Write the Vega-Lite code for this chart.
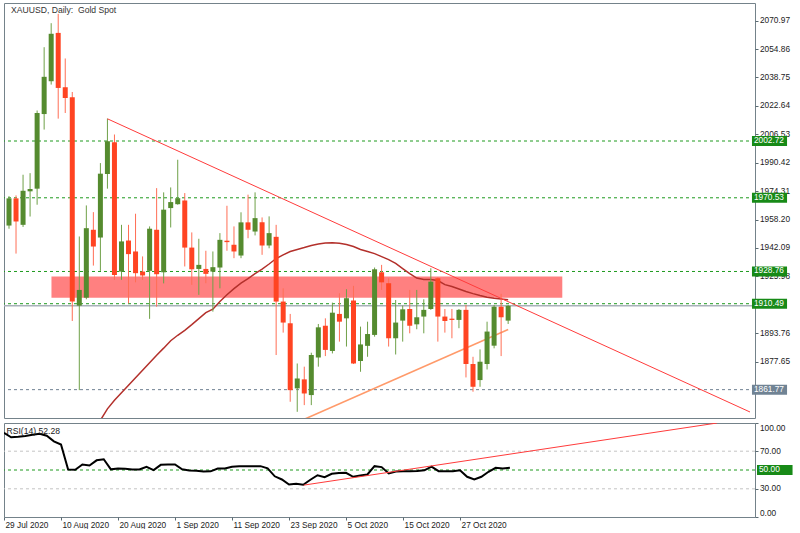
{
  "$schema": "https://vega.github.io/schema/vega-lite/v6.json",
  "padding": {"left": 2, "top": 2, "right": 0, "bottom": 0},
  "background": "white",
  "spacing": 3,
  "config": {
    "view": {"stroke": "#74828a", "strokeWidth": 1},
    "axis": {"labelFont": "Liberation Sans", "labelFontSize": 8.3, "labelColor": "#222222", "tickColor": "#5a6a72", "tickWidth": 1, "grid": false, "domain": false, "zindex": 0}
  },
  "datasets": {
    "candles": [
      {"d": "2020-07-29", "n": 0, "o": 1954.8, "h": 1971.5, "l": 1953.0, "c": 1970.2},
      {"d": "2020-07-30", "n": 1, "o": 1970.2, "h": 1971.9, "l": 1938.9, "c": 1957.1},
      {"d": "2020-07-31", "n": 2, "o": 1955.2, "h": 1983.6, "l": 1954.0, "c": 1974.5},
      {"d": "2020-08-03", "n": 3, "o": 1974.2, "h": 1984.5, "l": 1959.9, "c": 1975.5},
      {"d": "2020-08-04", "n": 4, "o": 1975.7, "h": 2020.0, "l": 1966.6, "c": 2018.6},
      {"d": "2020-08-05", "n": 5, "o": 2018.0, "h": 2055.9, "l": 2009.2, "c": 2039.1},
      {"d": "2020-08-06", "n": 6, "o": 2036.6, "h": 2069.5, "l": 2034.7, "c": 2063.5},
      {"d": "2020-08-07", "n": 7, "o": 2064.0, "h": 2074.8, "l": 2015.4, "c": 2032.8},
      {"d": "2020-08-10", "n": 8, "o": 2033.2, "h": 2049.5, "l": 2018.6, "c": 2027.1},
      {"d": "2020-08-11", "n": 9, "o": 2027.5, "h": 2030.5, "l": 1900.7, "c": 1911.7},
      {"d": "2020-08-12", "n": 10, "o": 1909.4, "h": 1948.6, "l": 1861.5, "c": 1918.3},
      {"d": "2020-08-13", "n": 11, "o": 1913.9, "h": 1966.2, "l": 1913.0, "c": 1953.3},
      {"d": "2020-08-14", "n": 12, "o": 1952.4, "h": 1962.4, "l": 1932.1, "c": 1942.9},
      {"d": "2020-08-17", "n": 13, "o": 1948.0, "h": 1990.2, "l": 1929.1, "c": 1984.2},
      {"d": "2020-08-18", "n": 14, "o": 1984.0, "h": 2015.4, "l": 1975.7, "c": 2002.6},
      {"d": "2020-08-19", "n": 15, "o": 2002.0, "h": 2006.4, "l": 1924.0, "c": 1926.8},
      {"d": "2020-08-20", "n": 16, "o": 1928.7, "h": 1955.2, "l": 1924.0, "c": 1945.8},
      {"d": "2020-08-21", "n": 17, "o": 1946.3, "h": 1955.2, "l": 1910.7, "c": 1938.6},
      {"d": "2020-08-24", "n": 18, "o": 1940.1, "h": 1961.5, "l": 1922.6, "c": 1927.8},
      {"d": "2020-08-25", "n": 19, "o": 1928.7, "h": 1937.3, "l": 1924.0, "c": 1926.5},
      {"d": "2020-08-26", "n": 20, "o": 1929.1, "h": 1954.3, "l": 1901.9, "c": 1953.0},
      {"d": "2020-08-27", "n": 21, "o": 1952.4, "h": 1976.0, "l": 1908.8, "c": 1927.2},
      {"d": "2020-08-28", "n": 22, "o": 1928.3, "h": 1973.6, "l": 1922.0, "c": 1963.8},
      {"d": "2020-08-31", "n": 23, "o": 1964.7, "h": 1976.4, "l": 1953.7, "c": 1968.1},
      {"d": "2020-09-01", "n": 24, "o": 1966.9, "h": 1992.1, "l": 1966.6, "c": 1970.3},
      {"d": "2020-09-02", "n": 25, "o": 1969.0, "h": 1973.2, "l": 1931.6, "c": 1942.3},
      {"d": "2020-09-03", "n": 26, "o": 1942.3, "h": 1950.9, "l": 1921.2, "c": 1930.0},
      {"d": "2020-09-04", "n": 27, "o": 1930.2, "h": 1947.3, "l": 1915.5, "c": 1932.5},
      {"d": "2020-09-07", "n": 28, "o": 1930.2, "h": 1940.5, "l": 1922.1, "c": 1927.4},
      {"d": "2020-09-08", "n": 29, "o": 1928.7, "h": 1940.1, "l": 1906.0, "c": 1931.2},
      {"d": "2020-09-09", "n": 30, "o": 1931.0, "h": 1950.5, "l": 1919.2, "c": 1946.7},
      {"d": "2020-09-10", "n": 31, "o": 1946.2, "h": 1966.0, "l": 1940.5, "c": 1945.4},
      {"d": "2020-09-11", "n": 32, "o": 1943.9, "h": 1954.3, "l": 1936.3, "c": 1940.1},
      {"d": "2020-09-14", "n": 33, "o": 1937.8, "h": 1962.3, "l": 1936.3, "c": 1956.6},
      {"d": "2020-09-15", "n": 34, "o": 1956.6, "h": 1972.3, "l": 1947.6, "c": 1952.4},
      {"d": "2020-09-16", "n": 35, "o": 1951.4, "h": 1973.6, "l": 1949.2, "c": 1959.0},
      {"d": "2020-09-17", "n": 36, "o": 1956.6, "h": 1959.4, "l": 1938.2, "c": 1943.5},
      {"d": "2020-09-18", "n": 37, "o": 1943.5, "h": 1960.0, "l": 1941.9, "c": 1950.5},
      {"d": "2020-09-21", "n": 38, "o": 1948.4, "h": 1955.2, "l": 1881.4, "c": 1911.7},
      {"d": "2020-09-22", "n": 39, "o": 1911.7, "h": 1919.2, "l": 1894.1, "c": 1899.8},
      {"d": "2020-09-23", "n": 40, "o": 1899.4, "h": 1904.7, "l": 1854.9, "c": 1861.5},
      {"d": "2020-09-24", "n": 41, "o": 1862.5, "h": 1876.6, "l": 1849.2, "c": 1868.1},
      {"d": "2020-09-25", "n": 42, "o": 1867.6, "h": 1874.8, "l": 1853.0, "c": 1859.6},
      {"d": "2020-09-28", "n": 43, "o": 1858.7, "h": 1882.7, "l": 1853.0, "c": 1881.4},
      {"d": "2020-09-29", "n": 44, "o": 1880.0, "h": 1899.0, "l": 1874.8, "c": 1897.1},
      {"d": "2020-09-30", "n": 45, "o": 1898.0, "h": 1902.2, "l": 1880.8, "c": 1884.3},
      {"d": "2020-10-01", "n": 46, "o": 1883.7, "h": 1911.1, "l": 1882.3, "c": 1905.4},
      {"d": "2020-10-02", "n": 47, "o": 1904.7, "h": 1916.4, "l": 1889.0, "c": 1900.3},
      {"d": "2020-10-05", "n": 48, "o": 1902.2, "h": 1918.7, "l": 1886.2, "c": 1913.6},
      {"d": "2020-10-06", "n": 49, "o": 1912.3, "h": 1920.6, "l": 1876.3, "c": 1876.6},
      {"d": "2020-10-07", "n": 50, "o": 1878.0, "h": 1897.5, "l": 1871.9, "c": 1887.4},
      {"d": "2020-10-08", "n": 51, "o": 1886.6, "h": 1900.3, "l": 1880.4, "c": 1893.3},
      {"d": "2020-10-09", "n": 52, "o": 1892.8, "h": 1931.0, "l": 1891.8, "c": 1930.0},
      {"d": "2020-10-12", "n": 53, "o": 1928.3, "h": 1932.5, "l": 1918.3, "c": 1922.6},
      {"d": "2020-10-13", "n": 54, "o": 1922.1, "h": 1924.9, "l": 1886.2, "c": 1890.9},
      {"d": "2020-10-14", "n": 55, "o": 1890.9, "h": 1912.6, "l": 1881.7, "c": 1899.8},
      {"d": "2020-10-15", "n": 56, "o": 1900.9, "h": 1909.4, "l": 1889.0, "c": 1907.3},
      {"d": "2020-10-16", "n": 57, "o": 1907.5, "h": 1918.3, "l": 1893.7, "c": 1898.0},
      {"d": "2020-10-19", "n": 58, "o": 1898.8, "h": 1918.3, "l": 1896.0, "c": 1902.8},
      {"d": "2020-10-20", "n": 59, "o": 1903.2, "h": 1913.0, "l": 1893.7, "c": 1907.0},
      {"d": "2020-10-21", "n": 60, "o": 1907.5, "h": 1930.6, "l": 1907.0, "c": 1923.0},
      {"d": "2020-10-22", "n": 61, "o": 1924.9, "h": 1925.5, "l": 1889.0, "c": 1903.2},
      {"d": "2020-10-23", "n": 62, "o": 1903.2, "h": 1907.5, "l": 1894.1, "c": 1900.7},
      {"d": "2020-10-26", "n": 63, "o": 1902.0, "h": 1907.5, "l": 1890.9, "c": 1901.3},
      {"d": "2020-10-27", "n": 64, "o": 1901.3, "h": 1907.5, "l": 1896.6, "c": 1907.0},
      {"d": "2020-10-28", "n": 65, "o": 1907.0, "h": 1909.8, "l": 1868.7, "c": 1876.3},
      {"d": "2020-10-29", "n": 66, "o": 1876.3, "h": 1880.4, "l": 1860.6, "c": 1863.4},
      {"d": "2020-10-30", "n": 67, "o": 1867.2, "h": 1884.6, "l": 1863.4, "c": 1877.6},
      {"d": "2020-11-02", "n": 68, "o": 1876.3, "h": 1900.3, "l": 1873.2, "c": 1894.7},
      {"d": "2020-11-03", "n": 69, "o": 1886.7, "h": 1909.8, "l": 1885.2, "c": 1908.8},
      {"d": "2020-11-04", "n": 70, "o": 1908.8, "h": 1916.1, "l": 1880.8, "c": 1902.8},
      {"d": "2020-11-05", "n": 71, "o": 1900.9, "h": 1909.8, "l": 1899.0, "c": 1909.3}
    ],
    "ma": [
      {"n": 12, "v": 1837.9}, {"n": 13, "v": 1844.4}, {"n": 14, "v": 1850.9}, {"n": 15, "v": 1855.7},
      {"n": 16, "v": 1860.0}, {"n": 17, "v": 1864.3}, {"n": 18, "v": 1868.5}, {"n": 19, "v": 1872.8},
      {"n": 20, "v": 1877.0}, {"n": 21, "v": 1881.3}, {"n": 22, "v": 1885.3}, {"n": 23, "v": 1889.5},
      {"n": 24, "v": 1892.6}, {"n": 25, "v": 1895.4}, {"n": 26, "v": 1898.6}, {"n": 27, "v": 1902.0},
      {"n": 28, "v": 1905.4}, {"n": 29, "v": 1907.4}, {"n": 30, "v": 1911.7}, {"n": 31, "v": 1915.6},
      {"n": 32, "v": 1919.0}, {"n": 33, "v": 1922.2}, {"n": 34, "v": 1924.7}, {"n": 35, "v": 1927.6},
      {"n": 36, "v": 1930.1}, {"n": 37, "v": 1933.0}, {"n": 38, "v": 1936.1}, {"n": 39, "v": 1938.2},
      {"n": 40, "v": 1940.1}, {"n": 41, "v": 1941.2}, {"n": 42, "v": 1942.3}, {"n": 43, "v": 1943.5},
      {"n": 44, "v": 1944.3}, {"n": 45, "v": 1944.9}, {"n": 46, "v": 1945.0}, {"n": 47, "v": 1944.7},
      {"n": 48, "v": 1944.0}, {"n": 49, "v": 1942.9}, {"n": 50, "v": 1941.2}, {"n": 51, "v": 1940.1},
      {"n": 52, "v": 1938.9}, {"n": 53, "v": 1937.2}, {"n": 54, "v": 1935.5}, {"n": 55, "v": 1933.3},
      {"n": 56, "v": 1930.4}, {"n": 57, "v": 1927.6}, {"n": 58, "v": 1925.0}, {"n": 59, "v": 1924.2},
      {"n": 60, "v": 1924.2}, {"n": 61, "v": 1923.6}, {"n": 62, "v": 1921.3}, {"n": 63, "v": 1920.2},
      {"n": 64, "v": 1918.8}, {"n": 65, "v": 1917.4}, {"n": 66, "v": 1916.2}, {"n": 67, "v": 1915.1},
      {"n": 68, "v": 1914.2}, {"n": 69, "v": 1913.6}, {"n": 70, "v": 1913.1}, {"n": 71, "v": 1912.8}
    ],
    "rsi": [
      {"n": 0, "v": 89.6}, {"n": 1, "v": 84.8}, {"n": 2, "v": 85.3}, {"n": 3, "v": 86.1},
      {"n": 4, "v": 87.4}, {"n": 5, "v": 88.5}, {"n": 6, "v": 86.4}, {"n": 7, "v": 80.5},
      {"n": 8, "v": 77.1}, {"n": 9, "v": 50.5}, {"n": 10, "v": 50.2}, {"n": 11, "v": 55.9},
      {"n": 12, "v": 54.8}, {"n": 13, "v": 60.3}, {"n": 14, "v": 61.4}, {"n": 15, "v": 50.7},
      {"n": 16, "v": 51.6}, {"n": 17, "v": 51.3}, {"n": 18, "v": 50.5}, {"n": 19, "v": 50.5},
      {"n": 20, "v": 53.4}, {"n": 21, "v": 49.9}, {"n": 22, "v": 55.5}, {"n": 23, "v": 55.9},
      {"n": 24, "v": 55.9}, {"n": 25, "v": 50.7}, {"n": 26, "v": 49.5}, {"n": 27, "v": 49.1},
      {"n": 28, "v": 48.4}, {"n": 29, "v": 48.6}, {"n": 30, "v": 51.6}, {"n": 31, "v": 51.6},
      {"n": 32, "v": 53.4}, {"n": 33, "v": 54.1}, {"n": 34, "v": 54.1}, {"n": 35, "v": 54.1},
      {"n": 36, "v": 54.1}, {"n": 37, "v": 51.8}, {"n": 38, "v": 43.3}, {"n": 39, "v": 39.9},
      {"n": 40, "v": 34.6}, {"n": 41, "v": 35.3}, {"n": 42, "v": 34.3}, {"n": 43, "v": 39.6},
      {"n": 44, "v": 44.4}, {"n": 45, "v": 42.4}, {"n": 46, "v": 46.0}, {"n": 47, "v": 46.7},
      {"n": 48, "v": 47.0}, {"n": 49, "v": 42.8}, {"n": 50, "v": 44.1}, {"n": 51, "v": 45.2},
      {"n": 52, "v": 54.1}, {"n": 53, "v": 53.1}, {"n": 54, "v": 46.3}, {"n": 55, "v": 48.3},
      {"n": 56, "v": 48.8}, {"n": 57, "v": 48.8}, {"n": 58, "v": 48.9}, {"n": 59, "v": 49.7},
      {"n": 60, "v": 53.6}, {"n": 61, "v": 48.8}, {"n": 62, "v": 48.8}, {"n": 63, "v": 48.8},
      {"n": 64, "v": 49.7}, {"n": 65, "v": 42.8}, {"n": 66, "v": 39.9}, {"n": 67, "v": 42.8},
      {"n": 68, "v": 48.1}, {"n": 69, "v": 52.3}, {"n": 70, "v": 51.6}, {"n": 71, "v": 52.3}
    ],
    "levels": [
      {"p": 2002.72, "kind": "line"},
      {"p": 1970.53, "kind": "line"},
      {"p": 1928.76, "kind": "line"},
      {"p": 1910.49, "kind": "line"},
      {"p": 1861.77, "kind": "low"}
    ]
  },
  "vconcat": [
    {
      "width": 751,
      "height": 415,
      "encoding": {
        "y": {"field": "p", "type": "quantitative", "scale": {"domain": [1845.7, 2080.95], "nice": false, "zero": false}, "title": null,
          "axis": {"orient": "right", "values": [2070.97, 2054.86, 2038.75, 2022.64, 2006.53, 1990.42, 1974.31, 1958.2, 1942.09, 1925.98, 1893.76, 1877.65], "format": ".2f", "tickSize": 3, "labelPadding": 1.5, "title": null, "labelBaseline": "middle", "labelFlush": false, "zindex": 0}}
      },
      "layer": [
        {
          "data": {"values": [{"n": 6.04, "to": 78.7, "p": 1925.9, "bottom": 1913.9}]},
          "mark": {"type": "rect", "color": "#ff8080", "clip": true},
          "encoding": {
            "x": {"field": "n", "type": "quantitative", "scale": {"domain": [0, 105.4], "nice": false, "zero": false}, "axis": null, "title": null},
            "x2": {"field": "to"},
            "y2": {"field": "bottom"}
          }
        },
        {
          "data": {"name": "levels"},
          "mark": {"type": "rule", "strokeDash": [3, 3], "strokeWidth": 1},
          "encoding": {
            "color": {"condition": {"test": "datum.kind === 'low'", "value": "#6f8092"}, "value": "#1e9a1e"}
          }
        },
        {
          "data": {"values": [{"p": 1909.3}]},
          "mark": {"type": "rule", "color": "#a9b1ba", "strokeWidth": 1.5}
        },
        {
          "data": {"name": "ma"},
          "mark": {"type": "line", "color": "#b3302b", "strokeWidth": 1.5, "clip": true},
          "encoding": {
            "x": {"field": "n", "type": "quantitative", "scale": {"domain": [0, 105.4], "nice": false, "zero": false}, "axis": null, "title": null},
            "y": {"field": "v", "type": "quantitative", "scale": {"domain": [1845.7, 2080.95], "nice": false, "zero": false}, "title": null,
              "axis": {"orient": "right", "values": [2070.97, 2054.86, 2038.75, 2022.64, 2006.53, 1990.42, 1974.31, 1958.2, 1942.09, 1925.98, 1893.76, 1877.65], "format": ".2f", "tickSize": 3, "labelPadding": 1.5, "title": null, "labelBaseline": "middle", "labelFlush": false, "zindex": 0}}
          }
        },
        {
          "data": {"values": [{"n": 42, "p": 1845.0}, {"n": 71, "p": 1895.9}]},
          "mark": {"type": "line", "color": "#ff9a6a", "strokeWidth": 1.6, "clip": true},
          "encoding": {
            "x": {"field": "n", "type": "quantitative", "scale": {"domain": [0, 105.4], "nice": false, "zero": false}, "axis": null, "title": null}
          }
        },
        {
          "data": {"name": "candles"},
          "mark": {"type": "rule", "strokeWidth": 1, "clip": true},
          "encoding": {
            "x": {"field": "n", "type": "quantitative", "scale": {"domain": [0, 105.4], "nice": false, "zero": false}, "axis": null, "title": null},
            "y": {"field": "l", "type": "quantitative", "scale": {"domain": [1845.7, 2080.95], "nice": false, "zero": false}, "title": null,
              "axis": {"orient": "right", "values": [2070.97, 2054.86, 2038.75, 2022.64, 2006.53, 1990.42, 1974.31, 1958.2, 1942.09, 1925.98, 1893.76, 1877.65], "format": ".2f", "tickSize": 3, "labelPadding": 1.5, "title": null, "labelBaseline": "middle", "labelFlush": false, "zindex": 0}},
            "y2": {"field": "h"},
            "color": {"condition": {"test": "datum.c >= datum.o", "value": "#6fa048"}, "value": "#ff6e55"}
          }
        },
        {
          "data": {"name": "candles"},
          "mark": {"type": "bar", "size": 5, "clip": true},
          "encoding": {
            "x": {"field": "n", "type": "quantitative", "scale": {"domain": [0, 105.4], "nice": false, "zero": false}, "axis": null, "title": null},
            "y": {"field": "o", "type": "quantitative", "scale": {"domain": [1845.7, 2080.95], "nice": false, "zero": false}, "title": null,
              "axis": {"orient": "right", "values": [2070.97, 2054.86, 2038.75, 2022.64, 2006.53, 1990.42, 1974.31, 1958.2, 1942.09, 1925.98, 1893.76, 1877.65], "format": ".2f", "tickSize": 3, "labelPadding": 1.5, "title": null, "labelBaseline": "middle", "labelFlush": false, "zindex": 0}},
            "y2": {"field": "c"},
            "color": {"condition": {"test": "datum.c >= datum.o", "value": "#558b2f"}, "value": "#ff4422"}
          }
        },
        {
          "data": {"values": [{"n": 14, "p": 2015.3}, {"n": 105.4, "p": 1849.1}]},
          "mark": {"type": "line", "color": "#ff3b3b", "strokeWidth": 1, "clip": true},
          "encoding": {
            "x": {"field": "n", "type": "quantitative", "scale": {"domain": [0, 105.4], "nice": false, "zero": false}, "axis": null, "title": null}
          }
        },
        {
          "data": {"values": [{"n": 0.3, "p": 2077.0, "t": "XAUUSD, Daily: \u00a0Gold Spot"}]},
          "mark": {"type": "text", "align": "left", "baseline": "middle", "font": "Liberation Sans", "fontSize": 8.6, "color": "#333333"},
          "encoding": {
            "x": {"field": "n", "type": "quantitative", "scale": {"domain": [0, 105.4], "nice": false, "zero": false}, "axis": null, "title": null},
            "text": {"field": "t"}
          }
        },
        {
          "data": {"name": "levels"},
          "mark": {"type": "rule", "strokeWidth": 10, "clip": false},
          "encoding": {
            "x": {"datum": 105.68, "type": "quantitative", "scale": {"domain": [0, 105.4], "nice": false, "zero": false}, "axis": null, "title": null},
            "x2": {"datum": 110.67},
            "color": {"condition": {"test": "datum.kind === 'low'", "value": "#708394"}, "value": "#178a17"}
          }
        },
        {
          "data": {"name": "levels"},
          "mark": {"type": "text", "align": "left", "baseline": "middle", "font": "Liberation Sans", "fontSize": 8.3, "color": "#ffffff", "clip": false},
          "encoding": {
            "x": {"datum": 105.96, "type": "quantitative", "scale": {"domain": [0, 105.4], "nice": false, "zero": false}, "axis": null, "title": null},
            "text": {"field": "p", "type": "quantitative", "format": ".2f"}
          }
        }
      ]
    },
    {
      "width": 751,
      "height": 94,
      "encoding": {
        "y": {"field": "v", "type": "quantitative", "scale": {"domain": [0, 100], "nice": false, "zero": false}, "title": null,
          "axis": {"orient": "right", "values": [100, 70, 30, 0], "format": ".2f", "tickSize": 3, "labelPadding": 1.5, "labelFlush": true, "title": null, "zindex": 0}}
      },
      "layer": [
        {
          "data": {"values": [{"v": 70, "kind": "band"}, {"v": 30, "kind": "band"}, {"v": 50, "kind": "mid"}]},
          "mark": {"type": "rule", "strokeDash": [3, 3], "strokeWidth": 1},
          "encoding": {
            "color": {"condition": {"test": "datum.kind === 'mid'", "value": "#1e9a1e"}, "value": "#c4c4c4"}
          }
        },
        {
          "data": {"name": "rsi"},
          "mark": {"type": "line", "color": "#000000", "strokeWidth": 2, "clip": true},
          "encoding": {
            "x": {"field": "n", "type": "quantitative", "scale": {"domain": [0, 105.4], "nice": false, "zero": false}, "title": null,
              "axis": {"values": [0, 8, 16, 24, 32, 40, 48, 56, 64], "labelExpr": "['29 Jul 2020','10 Aug 2020','20 Aug 2020','1 Sep 2020','11 Sep 2020','23 Sep 2020','5 Oct 2020','15 Oct 2020','27 Oct 2020'][datum.value / 8]", "labelAlign": "left", "labelBaseline": "top", "labelPadding": 0, "labelOffset": 1, "tickSize": 3, "labelFlush": false, "title": null, "zindex": 0}}
          }
        },
        {
          "data": {"values": [{"n": 42.06, "v": 33.9}, {"n": 100.07, "v": 100}]},
          "mark": {"type": "line", "color": "#ff3b3b", "strokeWidth": 1, "clip": true},
          "encoding": {
            "x": {"field": "n", "type": "quantitative", "scale": {"domain": [0, 105.4], "nice": false, "zero": false}, "title": null,
              "axis": {"values": [0, 8, 16, 24, 32, 40, 48, 56, 64], "labelExpr": "['29 Jul 2020','10 Aug 2020','20 Aug 2020','1 Sep 2020','11 Sep 2020','23 Sep 2020','5 Oct 2020','15 Oct 2020','27 Oct 2020'][datum.value / 8]", "labelAlign": "left", "labelBaseline": "top", "labelPadding": 0, "labelOffset": 1, "tickSize": 3, "labelFlush": false, "title": null, "zindex": 0}}
          }
        },
        {
          "data": {"values": [{"n": 0.35, "v": 91.7, "t": "RSI(14) 52.28"}]},
          "mark": {"type": "text", "align": "left", "baseline": "middle", "font": "Liberation Sans", "fontSize": 8.6, "color": "#222222"},
          "encoding": {
            "x": {"field": "n", "type": "quantitative", "scale": {"domain": [0, 105.4], "nice": false, "zero": false}, "title": null,
              "axis": {"values": [0, 8, 16, 24, 32, 40, 48, 56, 64], "labelExpr": "['29 Jul 2020','10 Aug 2020','20 Aug 2020','1 Sep 2020','11 Sep 2020','23 Sep 2020','5 Oct 2020','15 Oct 2020','27 Oct 2020'][datum.value / 8]", "labelAlign": "left", "labelBaseline": "top", "labelPadding": 0, "labelOffset": 1, "tickSize": 3, "labelFlush": false, "title": null, "zindex": 0}},
            "text": {"field": "t"}
          }
        },
        {
          "data": {"values": [{"v": 50}]},
          "mark": {"type": "rule", "strokeWidth": 10, "color": "#178a17", "clip": false},
          "encoding": {
            "x": {"datum": 105.68, "type": "quantitative", "scale": {"domain": [0, 105.4], "nice": false, "zero": false}, "title": null,
              "axis": {"values": [0, 8, 16, 24, 32, 40, 48, 56, 64], "labelExpr": "['29 Jul 2020','10 Aug 2020','20 Aug 2020','1 Sep 2020','11 Sep 2020','23 Sep 2020','5 Oct 2020','15 Oct 2020','27 Oct 2020'][datum.value / 8]", "labelAlign": "left", "labelBaseline": "top", "labelPadding": 0, "labelOffset": 1, "tickSize": 3, "labelFlush": false, "title": null, "zindex": 0}},
            "x2": {"datum": 110.67}
          }
        },
        {
          "data": {"values": [{"v": 50}]},
          "mark": {"type": "text", "align": "left", "baseline": "middle", "font": "Liberation Sans", "fontSize": 8.3, "color": "#ffffff", "clip": false},
          "encoding": {
            "x": {"datum": 105.96, "type": "quantitative", "scale": {"domain": [0, 105.4], "nice": false, "zero": false}, "title": null,
              "axis": {"values": [0, 8, 16, 24, 32, 40, 48, 56, 64], "labelExpr": "['29 Jul 2020','10 Aug 2020','20 Aug 2020','1 Sep 2020','11 Sep 2020','23 Sep 2020','5 Oct 2020','15 Oct 2020','27 Oct 2020'][datum.value / 8]", "labelAlign": "left", "labelBaseline": "top", "labelPadding": 0, "labelOffset": 1, "tickSize": 3, "labelFlush": false, "title": null, "zindex": 0}},
            "text": {"field": "v", "type": "quantitative", "format": ".2f"}
          }
        }
      ]
    }
  ]
}
